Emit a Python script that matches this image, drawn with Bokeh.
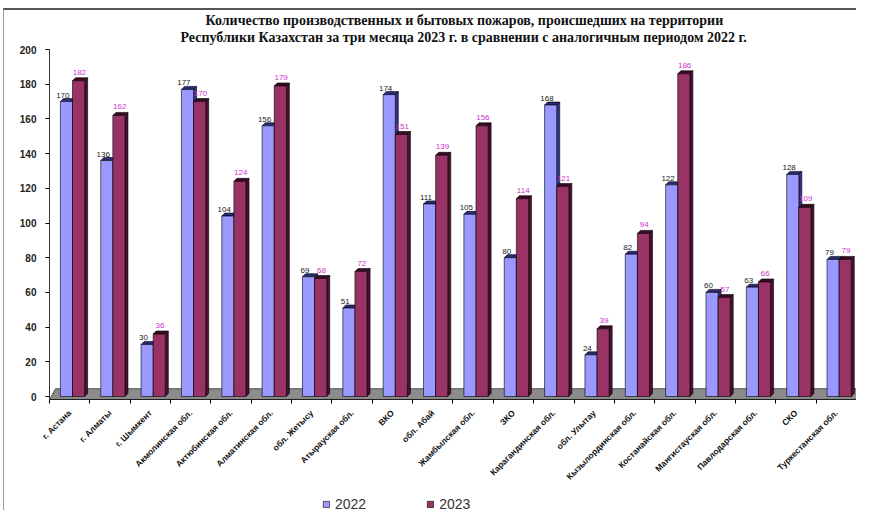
import numpy as np
from bokeh.plotting import figure
from bokeh.models import Range1d, FixedTicker, Title, Legend, LegendItem, ColumnDataSource
from bokeh.embed import file_html
from bokeh.resources import INLINE
from bokeh.core.properties import value

categories = ["г. Астана", "г. Алматы", "г. Шымкент", "Акмолинская обл.", "Актюбинская обл.",
              "Алматинская обл.", "обл. Жетысу", "Атырауская обл.", "ВКО", "обл. Абай",
              "Жамбылская обл.", "ЗКО", "Карагандинская обл.", "обл. Улытау", "Кызылординская обл.",
              "Костанайская обл.", "Мангистауская обл.", "Павлодарская обл.", "СКО", "Туркестанская обл."]
fires_2022 = [170, 136, 30, 177, 104, 156, 69, 51, 174, 111, 105, 80, 168, 24, 82, 122, 60, 63, 128, 79]
fires_2023 = [182, 162, 36, 170, 124, 179, 68, 72, 151, 139, 156, 114, 121, 39, 94, 186, 57, 66, 109, 79]
series_names = ["2022", "2023"]
y_ticks = list(range(0, 201, 20))
title_lines = ["Количество производственных и бытовых пожаров, происшедших на территории",
               "Республики Казахстан за три месяца 2023 г. в сравнении с аналогичным периодом 2022 г."]

BLUE, BLUE_SIDE, BLUE_TOP = "#9999FF", "#33338C", "#2A2A78"
RED, RED_SIDE, RED_TOP = "#993366", "#4A1030", "#3A0A25"
LBL_RED = "#CC33CC"

n = len(categories)
idx = np.arange(n)
Y_AXIS_BASE = -1.7     # where the category axis sits
Y_VIEW_MIN = -66.86    # extra room below for rotated labels and legend
Y_VIEW_MAX = 202.9     # small headroom so the top tick label is not clipped
X_VIEW_MIN = -1.115    # extra room left for the value-axis labels
DX = 0.075      # depth in x (category units)
DY = 1.75       # depth in y (data units)

p = figure(width=853, height=502, output_backend="svg", toolbar_location=None,
           x_range=Range1d(X_VIEW_MIN, n), y_range=Range1d(Y_VIEW_MIN, Y_VIEW_MAX),
           min_border_left=0, min_border_right=1, min_border_top=34, min_border_bottom=0,
           title=None)
p.outline_line_color = None
p.xgrid.visible = False
p.ygrid.visible = False
p.styles = {"border-top": "2px solid #555555", "border-left": "1px solid #9a9a9a",
            "margin-top": "8px", "margin-left": "3px"}

# floor
p.patch(x=[0, n, n, 0.15], y=[Y_AXIS_BASE, Y_AXIS_BASE, 4.5, 4.5], fill_color="#8C8C8C",
        line_color="#333333", line_width=0.8)


def bar3d(values, left_off, right_off, front, side, top):
    v = np.array(values, dtype=float)
    l = idx + left_off
    r = idx + right_off
    side_xs = [[ri, ri + DX, ri + DX, ri] for ri in r]
    side_ys = [[0, DY, vi + DY, vi] for vi in v]
    top_xs = [[li, li + DX, ri + DX, ri] for li, ri in zip(l, r)]
    top_ys = [[vi, vi + DY, vi + DY, vi] for vi in v]
    p.patches(xs=side_xs, ys=side_ys, fill_color=side, line_color="black", line_width=0.6)
    p.patches(xs=top_xs, ys=top_ys, fill_color=top, line_color="black", line_width=0.6)
    fr = p.quad(left=l, right=r, bottom=0, top=v, fill_color=front, line_color="black", line_width=0.6)
    return fr


r22 = bar3d(fires_2022, 0.27, 0.57, BLUE, BLUE_SIDE, BLUE_TOP)
r23 = bar3d(fires_2023, 0.57, 0.87, RED, RED_SIDE, RED_TOP)

src22 = ColumnDataSource(dict(x=idx + 0.33, y=fires_2022, t=[str(v) for v in fires_2022]))
src23 = ColumnDataSource(dict(x=idx + 0.74, y=fires_2023, t=[str(v) for v in fires_2023]))
p.text(x="x", y="y", text="t", source=src22, text_align="center", text_baseline="bottom",
       y_offset=-4, text_font=value("Liberation Sans"), text_font_size="8px", text_color="#222222")
p.text(x="x", y="y", text="t", source=src23, text_align="center", text_baseline="bottom",
       y_offset=-6, text_font=value("Liberation Sans"), text_font_size="8px", text_color=LBL_RED)

# axes
p.yaxis.fixed_location = 0
p.yaxis.ticker = FixedTicker(ticks=y_ticks)
p.yaxis.bounds = (Y_AXIS_BASE, 200)
p.yaxis.major_label_text_font = "Liberation Sans"
p.yaxis.major_label_text_font_style = "bold"
p.yaxis.major_label_text_font_size = "10px"
p.yaxis.major_label_text_color = "#222222"
p.yaxis.major_tick_in = 0
p.yaxis.major_tick_out = 4
p.yaxis.minor_tick_line_color = None
p.yaxis.axis_line_color = "#333333"
p.yaxis.major_label_standoff = 9

p.xaxis.fixed_location = Y_AXIS_BASE
p.xaxis.bounds = (0, n)
p.xaxis.ticker = FixedTicker(ticks=list(idx + 0.5), minor_ticks=list(range(n + 1)))
p.xaxis.major_label_overrides = {float(i + 0.5): c for i, c in enumerate(categories)}
p.xaxis.major_label_orientation = np.pi / 4
p.xaxis.major_label_text_font = "Liberation Sans"
p.xaxis.major_label_text_font_style = "bold"
p.xaxis.major_label_text_font_size = "8.5px"
p.xaxis.major_label_text_color = "#111111"
p.xaxis.major_tick_in = 0
p.xaxis.major_tick_out = 0
p.xaxis.minor_tick_in = 0
p.xaxis.minor_tick_out = 4
p.xaxis.axis_line_color = "#222222"
p.xaxis.major_label_standoff = 8

# title (two lines, second line nearest to the plot)
p.add_layout(Title(text=title_lines[1], align="left", offset=176, standoff=0,
                   text_font="Liberation Serif", text_font_style="bold",
                   text_font_size="14px", text_color="#111111"), "above")
p.add_layout(Title(text=title_lines[0], align="left", offset=201, standoff=0,
                   text_font="Liberation Serif", text_font_style="bold",
                   text_font_size="14px", text_color="#111111"), "above")

legend = Legend(items=[LegendItem(label=series_names[0], renderers=[r22]),
                       LegendItem(label=series_names[1], renderers=[r23])],
                orientation="horizontal", location=(318, 0),
                glyph_width=8, glyph_height=8, label_standoff=5, spacing=60,
                padding=2, margin=0, border_line_color=None, background_fill_alpha=0,
                label_text_font="Liberation Sans", label_text_font_size="14px",
                label_text_color="#333333")
p.add_layout(legend, "center")

open("out.html", "w").write(file_html(p, INLINE))
